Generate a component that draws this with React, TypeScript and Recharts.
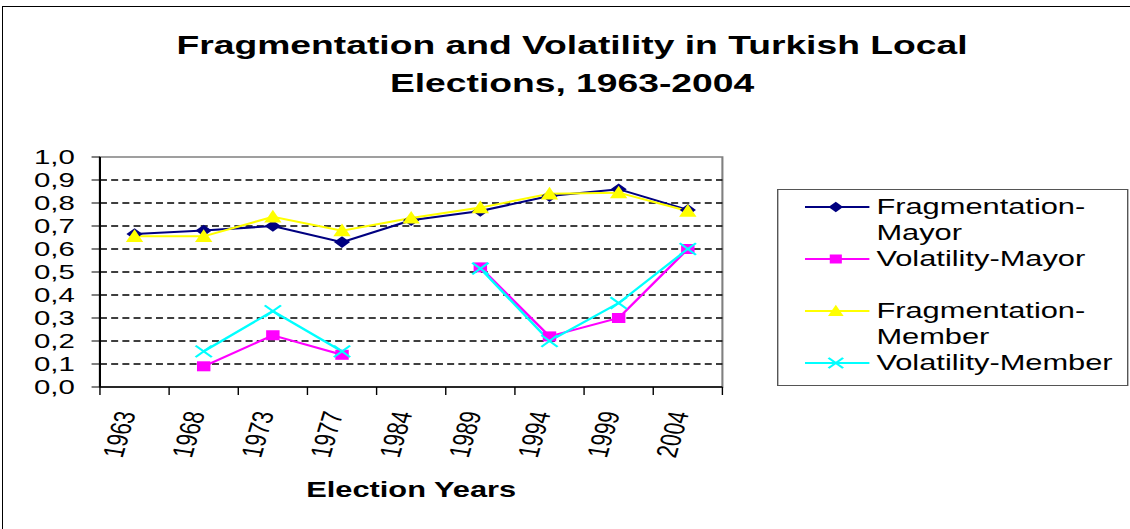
import React from "react";
import {
  ComposedChart,
  Line,
  XAxis,
  YAxis,
  ReferenceLine,
  ReferenceArea,
  Legend,
} from "recharts";

const years = ["1963", "1968", "1973", "1977", "1984", "1989", "1994", "1999", "2004"];
const fragmentationMayor = [0.665, 0.68, 0.7, 0.63, 0.725, 0.765, 0.83, 0.86, 0.77];
const volatilityMayor = [null, 0.09, 0.225, 0.14, null, 0.52, 0.22, 0.3, 0.6];
const fragmentationMember = [0.655, 0.655, 0.74, 0.68, 0.735, 0.78, 0.84, 0.845, 0.765];
const volatilityMember = [null, 0.155, 0.33, 0.155, null, 0.515, 0.2, 0.365, 0.6];

const yTicks = [0, 0.1, 0.2, 0.3, 0.4, 0.5, 0.6, 0.7, 0.8, 0.9, 1.0];
const gridValues = [0.1, 0.2, 0.3, 0.4, 0.5, 0.6, 0.7, 0.8, 0.9];

const data = years.map((year, i) => ({
  year,
  fragMayor: fragmentationMayor[i],
  volMayor: volatilityMayor[i],
  fragMember: fragmentationMember[i],
  volMember: volatilityMember[i],
}));

type Shape = "diamond" | "square" | "triangle" | "cross";

const series: { key: string; name: string; color: string; shape: Shape }[] = [
  { key: "fragMayor", name: "Fragmentation-Mayor", color: "#000080", shape: "diamond" },
  { key: "volMayor", name: "Volatility-Mayor", color: "#FF00FF", shape: "square" },
  { key: "fragMember", name: "Fragmentation-Member", color: "#FFFF00", shape: "triangle" },
  { key: "volMember", name: "Volatility-Member", color: "#00FFFF", shape: "cross" },
];

// the original picture is stretched sideways, so the chart is drawn narrow and scaled
const STRETCH = 1.4;
const W = 807;
const H = 529;
const FONT = '"Liberation Sans", Arial, Helvetica, sans-serif';

const Marker = ({ shape, cx, cy, color, s = 1 }: { shape: Shape; cx: number; cy: number; color: string; s?: number }) => {
  if (shape === "diamond") {
    const r = 5.8 * s;
    return <polygon points={`${cx},${cy - r} ${cx + r},${cy} ${cx},${cy + r} ${cx - r},${cy}`} fill={color} />;
  }
  if (shape === "square") {
    return <rect x={cx - 4.8 * s} y={cy - 5 * s} width={9.6 * s} height={10 * s} fill={color} />;
  }
  if (shape === "triangle") {
    return (
      <polygon
        points={`${cx},${cy - 7 * s} ${cx + 6.2 * s},${cy + 5.6 * s} ${cx - 6.2 * s},${cy + 5.6 * s}`}
        fill={color}
      />
    );
  }
  const r = 5.8 * s;
  return (
    <g stroke={color} strokeWidth={1.8}>
      <line x1={cx - r} y1={cy - r} x2={cx + r} y2={cy + r} />
      <line x1={cx - r} y1={cy + r} x2={cx + r} y2={cy - r} />
    </g>
  );
};

const makeDot = (shape: Shape, color: string) => (p: any) => {
  if (p.value == null || p.cx == null || p.cy == null) return <g key={`d-${p.index}`} />;
  return (
    <g key={`d-${p.index}`}>
      <Marker shape={shape} cx={p.cx} cy={p.cy} color={color} />
    </g>
  );
};

// year label at the band centre, tick marks on the band edges (Excel style)
const YearTick = ({ x, y, payload, index }: any) => {
  const half = payload && payload.offset ? payload.offset : 0;
  const ax = x + 1;
  const ay = y + 26;
  const last = index === years.length - 1;
  return (
    <g>
      <line x1={x - half} x2={x - half} y1={y} y2={y + 8} stroke="#000" strokeWidth={1} />
      {last && <line x1={x + half} x2={x + half} y1={y} y2={y + 8} stroke="#000" strokeWidth={1} />}
      <text
        x={ax}
        y={ay}
        transform={`rotate(-78, ${ax}, ${ay})`}
        textAnchor="end"
        fontSize={21}
        fontFamily={FONT}
        fill="#000"
      >
        {payload.value}
      </text>
    </g>
  );
};

const LegendBox = () => (
  <div
    style={{
      width: 251,
      height: 197,
      boxSizing: "border-box",
      border: "1.5px solid #555",
      background: "#fff",
      paddingTop: 4,
    }}
  >
    {series.map((s) => (
      <div key={s.key} style={{ position: "relative", height: 52 }}>
        <svg width={70} height={26} style={{ position: "absolute", left: 0, top: 0 }}>
          <line x1={19} x2={65} y1={13} y2={13} stroke={s.color} strokeWidth={2} />
          <Marker shape={s.shape} cx={41} cy={13} color={s.color} s={0.9} />
        </svg>
        <div
          style={{
            position: "absolute",
            left: 70,
            top: 0,
            width: 178,
            fontSize: 22,
            lineHeight: "26px",
            fontFamily: FONT,
            color: "#000",
            textAlign: "left",
          }}
        >
          {s.name}
        </div>
      </div>
    ))}
  </div>
);

export default function App() {
  return (
    <div style={{ position: "absolute", left: 0, top: 0, width: 1130, height: H, background: "#fff", overflow: "hidden" }}>
      <div
        style={{
          position: "absolute",
          left: 2,
          top: 6,
          width: 1128,
          height: H - 6,
          boxSizing: "border-box",
          borderLeft: "1.5px solid #000",
          borderTop: "1.5px solid #000",
        }}
      />
      <div
        style={{
          position: "absolute",
          left: 0,
          top: 0,
          width: W,
          height: H,
          transform: `scaleX(${STRETCH})`,
          transformOrigin: "0 0",
        }}
      >
        <div
          style={{
            position: "absolute",
            left: 108.6,
            top: 26,
            width: 600,
            textAlign: "center",
            fontFamily: FONT,
            fontWeight: "bold",
            fontSize: 26.6,
            lineHeight: "38px",
            color: "#000",
          }}
        >
          Fragmentation and Volatility in Turkish Local
          <br />
          Elections, 1963-2004
        </div>
        <ComposedChart
          width={W}
          height={H}
          data={data}
          margin={{ top: 157, right: 291, bottom: 27, left: 0 }}
          style={{ fontFamily: FONT }}
        >
          <XAxis
            xAxisId="cat"
            dataKey="year"
            type="category"
            scale="band"
            interval={0}
            height={115}
            axisLine={{ stroke: "#000", strokeWidth: 1.5 }}
            tickLine={false}
            tickSize={0}
            tickMargin={0}
            tick={<YearTick />}
            label={{
              value: "Election Years",
              position: "insideBottom",
              offset: 5,
              fontSize: 22,
              fontWeight: "bold",
              fill: "#000",
              fontFamily: FONT,
            }}
          />
          <YAxis
            domain={[0, 1]}
            ticks={yTicks}
            interval={0}
            width={71.4}
            tickSize={6}
            tickMargin={12}
            tickFormatter={(v: number) => v.toFixed(1).replace(".", ",")}
            tick={{ fontSize: 21, fill: "#000", fontFamily: FONT }}
            axisLine={{ stroke: "#000", strokeWidth: 1.5 }}
            tickLine={{ stroke: "#000", strokeWidth: 1 }}
          />
          <ReferenceArea
            xAxisId="cat"
            y1={0}
            y2={1}
            fill="#fff"
            fillOpacity={0}
            stroke="#808080"
            strokeWidth={1.5}
          />
          {gridValues.map((v) => (
            <ReferenceLine
              key={v}
              xAxisId="cat"
              y={v}
              stroke="#000"
              strokeWidth={1.3}
              strokeDasharray="5 3"
            />
          ))}
          {series.map((s) => (
            <Line
              key={s.key}
              xAxisId="cat"
              type="linear"
              dataKey={s.key}
              name={s.name}
              stroke={s.color}
              strokeWidth={2}
              dot={makeDot(s.shape, s.color)}
              activeDot={false}
              isAnimationActive={false}
            />
          ))}
          <Legend
            layout="horizontal"
            align="center"
            verticalAlign="middle"
            content={() => <LegendBox />}
            wrapperStyle={{ left: 555, top: 189, width: 251, height: 197 }}
          />
        </ComposedChart>
      </div>
    </div>
  );
}
